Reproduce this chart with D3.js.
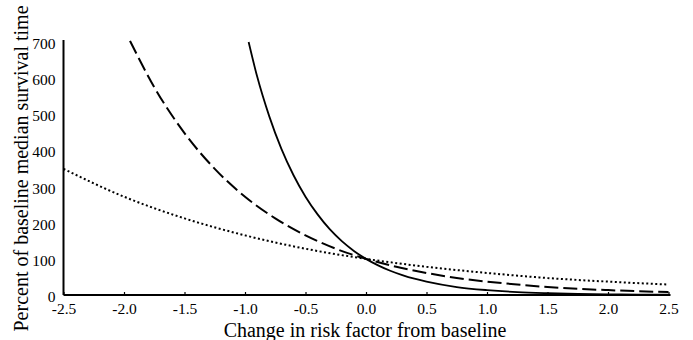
<!DOCTYPE html>
<html>
<head>
<meta charset="utf-8">
<script src="https://cdn.jsdelivr.net/npm/d3@7"></script>
<style>
  body { margin: 0; background: #fff; }
  text { font-family: "Liberation Serif", "DejaVu Serif", serif; fill: #000; }
</style>
</head>
<body>
<div id="chart"></div>
<script>
const MARGIN = { LEFT: 63.5, RIGHT: 24.5, TOP: 42, BOTTOM: 45 }
const WIDTH = 693 - MARGIN.LEFT - MARGIN.RIGHT
const HEIGHT = 340 - MARGIN.TOP - MARGIN.BOTTOM

// data
const xTicks = [-2.5, -2.0, -1.5, -1.0, -0.5, 0.0, 0.5, 1.0, 1.5, 2.0, 2.5]
const yTicks = [0, 100, 200, 300, 400, 500, 600, 700]

const solidX = [-0.97, -0.9, -0.8, -0.7, -0.6, -0.5, -0.4, -0.3, -0.2, -0.1, 0, 0.1, 0.2, 0.3, 0.4, 0.5, 0.75, 1.0, 1.25, 1.5, 1.75, 2.0, 2.25, 2.5]
const solidY = [700, 605, 495, 405, 332, 272, 223, 182, 149, 122, 100, 82, 67, 55, 45, 37, 22, 13.5, 8, 5, 3, 2, 1, 0.7]

const dashedX = [-1.95, -1.75, -1.5, -1.25, -1.0, -0.75, -0.5, -0.25, 0, 0.25, 0.5, 0.75, 1.0, 1.25, 1.5, 1.75, 2.0, 2.25, 2.5]
const dashedY = [703, 575, 448, 349, 272, 212, 165, 128, 100, 78, 61, 47, 37, 29, 22, 17, 13.5, 10.5, 8]

const dottedX = [-2.5, -2.0, -1.5, -1.0, -0.5, 0, 0.5, 1.0, 1.5, 2.0, 2.5]
const dottedY = [349, 272, 212, 165, 128, 100, 78, 61, 47, 37, 29]

const svg = d3.select("#chart").append("svg")
    .attr("width", 693)
    .attr("height", 340)

const g = svg.append("g")
    .attr("transform", `translate(${MARGIN.LEFT}, ${MARGIN.TOP})`)

// Scales
const x = d3.scaleLinear()
    .domain([-2.5, 2.5])
    .range([0, WIDTH])

const y = d3.scaleLinear()
    .domain([0, 700])
    .range([HEIGHT, 0])

// Axes
const xAxisCall = d3.axisBottom(x)
    .tickValues(xTicks)
    .tickSizeInner(-3)
    .tickSizeOuter(0)
    .tickPadding(8)
const xAxis = g.append("g")
    .attr("transform", `translate(0, ${HEIGHT})`)
    .call(xAxisCall)
xAxis.select(".domain").attr("stroke-width", 2).attr("d", `M0,0H${WIDTH + 2}`)
xAxis.selectAll(".tick line").attr("stroke-width", 1.2)
xAxis.selectAll("text").attr("font-size", "15.5px").attr("fill", "#000")
    .text(d => d3.format(".1f")(d).replace("−", "-"))

const yAxisCall = d3.axisLeft(y)
    .tickValues(yTicks)
    .tickSize(0)
    .tickPadding(8)
const yAxis = g.append("g").call(yAxisCall)
yAxis.select(".domain").attr("stroke-width", 2).attr("d", `M0,${HEIGHT}V-2`)
yAxis.selectAll("text").attr("font-size", "15.5px").attr("fill", "#000")
    .attr("dy", "0.42em")

// Labels
g.append("text")
    .attr("x", WIDTH / 2 - 1)
    .attr("y", HEIGHT + 42)
    .attr("font-size", "20px")
    .attr("text-anchor", "middle")
    .text("Change in risk factor from baseline")
g.append("text")
    .attr("transform", "rotate(-90)")
    .attr("x", -HEIGHT / 2)
    .attr("y", -35.5)
    .attr("font-size", "20px")
    .attr("text-anchor", "middle")
    .text("Percent of baseline median survival time")

// Curves
const line = d3.line()
    .x(d => x(d[0]))
    .y(d => y(d[1]))
    .curve(d3.curveMonotoneX)

const series = [
    { xs: solidX, ys: solidY, dash: null, w: 1.8 },
    { xs: dashedX, ys: dashedY, dash: "14,5", w: 2 },
    { xs: dottedX, ys: dottedY, dash: "2,2.5", w: 2 }
]

series.forEach(s => {
    g.append("path")
        .datum(d3.zip(s.xs, s.ys))
        .attr("d", line)
        .attr("fill", "none")
        .attr("stroke", "#000")
        .attr("stroke-width", s.w)
        .attr("stroke-dasharray", s.dash)
})
</script>
</body>
</html>
